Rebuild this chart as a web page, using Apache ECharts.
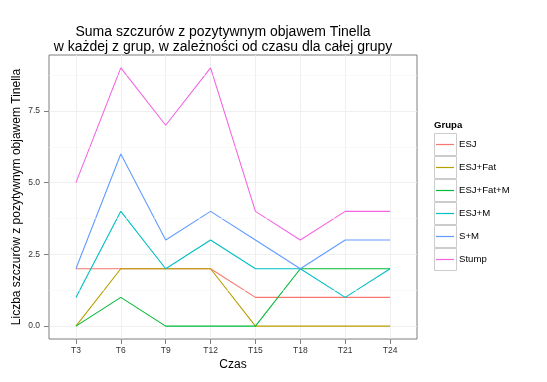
<!DOCTYPE html>
<html><head><meta charset="utf-8">
<script src="https://cdn.jsdelivr.net/npm/echarts@6/dist/echarts.min.js"></script>
<style>html,body{margin:0;padding:0;background:#fff}#c{width:547px;height:382px}</style>
</head><body><div id="c"></div>
<script>
const categories = ['T3','T6','T9','T12','T15','T18','T21','T24'];
const groups = ['ESJ','ESJ+Fat','ESJ+Fat+M','ESJ+M','S+M','Stump'];
const ESJ        = [2,2,2,2,1,1,1,1];
const ESJ_Fat    = [0,2,2,2,0,0,0,0];
const ESJ_Fat_M  = [0,1,0,0,0,2,2,2];
const ESJ_M      = [1,4,2,3,2,2,1,2];
const S_M        = [2,6,3,4,3,2,3,3];
const Stump      = [5,9,7,9,4,3,4,4];
const yTicks = [0, 2.5, 5, 7.5];
const yMinor = [1.25, 3.75, 6.25, 8.75];

const seriesValues = [ESJ, ESJ_Fat, ESJ_Fat_M, ESJ_M, S_M, Stump];
const colors = ['#F8766D','#B79F00','#00BA38','#00BFC4','#619CFF','#F564E3'];
const FONT = '"Liberation Sans", Arial, sans-serif';
const xIdx = categories.map((c,i)=>i);

const series = seriesValues.map((vals, k) => ({
  name: groups[k], type: 'line', symbol: 'none', silent: true,
  data: vals.map((v,i)=>[i, v]),
  lineStyle: { color: colors[k], width: 1.1 },
  itemStyle: { color: colors[k] },
  z: 3
}));
series.push({
  type: 'line', data: [], silent: true, z: 1,
  markLine: { symbol: 'none', silent: true, label: {show:false},
    lineStyle: { color: '#F5F5F5', width: 0.6, type: 'solid' },
    data: yMinor.map(v=>({yAxis: v})) }
});

const chart = echarts.init(document.getElementById('c'), null, {renderer:'canvas'});
const legendTop = 133, keyH = 23;
const boxes = groups.map((g,i)=>({
  type:'rect', left: 434, top: legendTop + i*keyH, z: 0,
  shape:{ width: 22, height: 22 },
  style:{ fill:'#fff', stroke:'#CCCCCC', lineWidth: 1 }
}));
chart.setOption({
  animation: false,
  color: colors,
  title: {
    text: 'Suma szczurów z pozytywnym objawem Tinella\nw każdej z grup, w zależności od czasu dla całej grupy',
    left: 223, top: 25, padding: 0, textAlign: 'center',
    textStyle: { fontFamily: FONT, fontSize: 14, fontWeight: 'normal', color: '#000', lineHeight: 15 }
  },
  grid: { left: 49, right: 130, top: 55, bottom: 43, containLabel: false, outerBoundsMode: 'none',
    show: true, borderColor: '#7F7F7F', borderWidth: 1, backgroundColor: '#fff' },
  xAxis: {
    type: 'value', min: -0.6, max: 7.6,
    name: 'Czas', nameLocation: 'middle', nameGap: 20, nameMoveOverlap: false,
    nameTextStyle: { fontFamily: FONT, fontSize: 12, color: '#000' },
    axisLine: { show: false, onZero: false },
    axisTick: { show: true, customValues: xIdx, length: 5, lineStyle: { color: '#7F7F7F', width: 1 } },
    axisLabel: { customValues: xIdx, formatter: v => categories[Math.round(v)], fontFamily: FONT, fontSize: 8.5, color: '#333', margin: 7 },
    splitLine: { show: true, customValues: xIdx, lineStyle: { color: '#EBEBEB', width: 0.8 } }
  },
  yAxis: {
    type: 'value', min: -0.45, max: 9.45,
    name: 'Liczba szczurów z pozytywnym objawem Tinella', nameLocation: 'middle', nameGap: 26, nameMoveOverlap: false,
    nameTextStyle: { fontFamily: FONT, fontSize: 12, color: '#000' },
    axisLine: { show: false, onZero: false },
    axisTick: { show: true, customValues: yTicks, length: 5, lineStyle: { color: '#7F7F7F', width: 1 } },
    axisLabel: { customValues: yTicks, formatter: v => v.toFixed(1), fontFamily: FONT, fontSize: 8.5, color: '#333', margin: 9 },
    splitLine: { show: true, customValues: yTicks, lineStyle: { color: '#EBEBEB', width: 0.8 } }
  },
  legend: {
    orient: 'vertical', left: 436, top: legendTop, padding: 0, itemGap: 0,
    data: groups,
    icon: 'rect', itemWidth: 18, itemHeight: 1.2,
    selectedMode: false,
    textStyle: { fontFamily: FONT, fontSize: 9.6, color: '#000', lineHeight: keyH, padding: [0,0,0,0] }
  },
  graphic: [
    { type:'text', left: 434, top: 120, style:{ text:'Grupa', font: 'bold 9.6px ' + FONT, fill:'#000' } },
    ...boxes
  ],
  series
});
</script></body></html>
